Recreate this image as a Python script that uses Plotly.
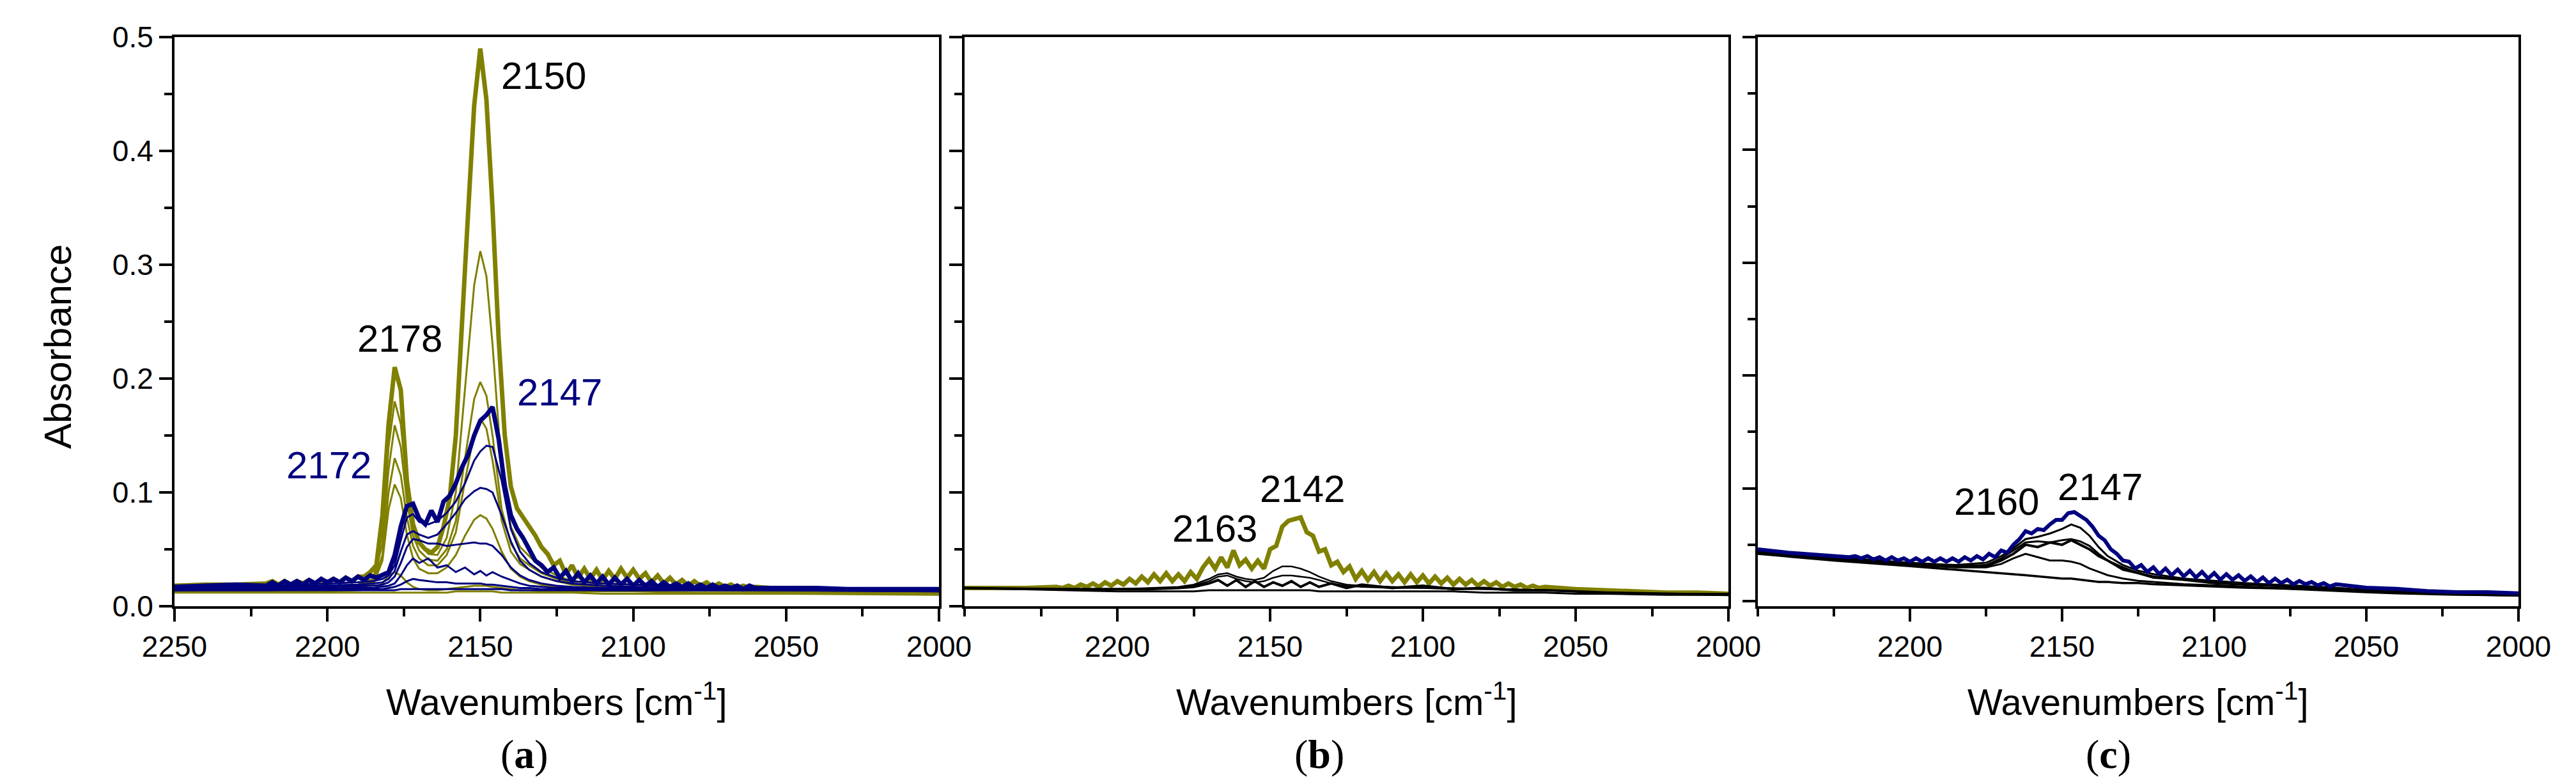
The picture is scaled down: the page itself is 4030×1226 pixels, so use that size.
import plotly.graph_objects as go

# ---------------- data ----------------
# fine wavenumber grid (cm-1) used for the thick (noisy) spectra
WN_FINE = [2250, 2240, 2230,
           2220, 2218, 2216, 2214, 2212, 2210, 2208, 2206, 2204, 2202,
           2200, 2198, 2196, 2194, 2192, 2190, 2188, 2186, 2184, 2182,
           2180, 2178, 2176, 2174, 2172, 2170, 2168, 2166, 2164, 2162,
           2160, 2158, 2156, 2154, 2152, 2150, 2148, 2146, 2144, 2142,
           2140, 2138, 2136, 2134, 2132, 2130, 2128, 2126, 2124, 2122,
           2120, 2118, 2116, 2114, 2112, 2110, 2108, 2106, 2104, 2102,
           2100, 2098, 2096, 2094, 2092, 2090, 2088, 2086, 2084, 2082,
           2080, 2078, 2076, 2074, 2072, 2070, 2068, 2066, 2064, 2062,
           2060,
           2050, 2040, 2030, 2020, 2010, 2000]

# panel (a) thick olive spectrum
A_OLIVE_THICK = [.018, .019, .019,
                 .020, .022, .019, .022, .019, .022, .020, .023, .020, .023,
                 .021, .024, .021, .025, .022, .026, .026, .030, .036, .080,
                 .160, .210, .190, .110, .072, .056, .050, .047, .052, .070,
                 .095, .150, .240, .345, .440, .490, .445, .350, .235, .150,
                 .105, .086, .078, .070, .062, .052, .046, .036, .040, .028,
                 .036, .025, .033, .024, .032, .023, .031, .024, .033, .025,
                 .032, .024, .029, .021, .027, .020, .025, .019, .023, .018,
                 .022, .018, .021, .017, .020, .017, .019, .016, .018, .016,
                 .017,
                 .015, .014, .013, .012, .012, .012]

# panel (a) thick blue spectrum
A_BLUE_THICK = [.017, .018, .019,
                .018, .021, .018, .022, .019, .022, .019, .023, .020, .024,
                .021, .024, .021, .025, .022, .026, .023, .027, .025, .028,
                .030, .045, .070, .088, .090, .077, .072, .084, .074, .092,
                .097, .108, .122, .133, .150, .163, .168, .175, .147, .106,
                .080, .068, .060, .050, .040, .036, .030, .034, .025, .031,
                .022, .029, .021, .027, .020, .026, .019, .025, .019, .024,
                .018, .023, .018, .022, .017, .021, .017, .020, .017, .020,
                .016, .019, .016, .019, .016, .018, .016, .018, .015, .018,
                .016,
                .016, .016, .015, .015, .015, .015]

# panel (b) thick olive spectrum
B_OLIVE_THICK = [.016, .016, .016,
                 .017, .016, .018, .016, .019, .017, .020, .017, .021, .018,
                 .022, .019, .024, .020, .026, .021, .028, .022, .029, .022,
                 .028, .022, .030, .024, .034, .041, .033, .043, .034, .049,
                 .036, .041, .033, .040, .033, .050, .053, .070, .075, .077,
                 .078, .065, .062, .048, .050, .036, .039, .030, .035, .024,
                 .031, .023, .030, .022, .029, .022, .028, .021, .028, .021,
                 .027, .020, .026, .020, .025, .019, .024, .019, .023, .018,
                 .022, .018, .021, .017, .020, .017, .019, .016, .018, .016,
                 .017,
                 .015, .014, .013, .012, .012, .011]

# panel (c) thick blue spectrum
C_BLUE_THICK = [.046, .043, .041,
                .039, .040, .038, .040, .037, .039, .036, .039, .036, .038,
                .035, .038, .035, .038, .035, .038, .035, .038, .035, .039,
                .036, .040, .037, .042, .039, .045, .043, .050, .055, .062,
                .060, .064, .063, .068, .072, .072, .078, .079, .075, .072,
                .066, .058, .054, .046, .042, .036, .035, .029, .032, .026,
                .030, .024, .029, .023, .028, .022, .027, .021, .026, .020,
                .025, .019, .024, .019, .023, .018, .022, .017, .021, .016,
                .020, .016, .019, .015, .018, .015, .017, .014, .016, .013,
                .015,
                .012, .011, .009, .008, .008, .007]

# panel (a) thin spectra
WN_A = [2250, 2220, 2200, 2190, 2185, 2182, 2180, 2178, 2176, 2174,
        2172, 2170, 2167, 2164, 2161, 2158, 2155, 2152, 2150, 2148,
        2146, 2143, 2140, 2137, 2134, 2130, 2125, 2120, 2110, 2100,
        2080, 2050, 2000]
A_OLIVE_2 = [.016, .017, .018, .019, .024, .065, .140, .180, .160, .105,
             .070, .055, .046, .045, .060, .100, .190, .282, .312, .290,
             .230, .120, .070, .052, .044, .034, .027, .022, .020, .019,
             .017, .015, .013]
A_OLIVE_3 = [.015, .016, .017, .018, .022, .055, .120, .159, .140, .092,
             .062, .049, .041, .040, .050, .075, .130, .182, .197, .185,
             .150, .085, .055, .042, .036, .029, .024, .020, .018, .017,
             .016, .014, .012]
A_OLIVE_4 = [.015, .015, .016, .017, .021, .045, .100, .130, .115, .078,
             .053, .042, .036, .036, .045, .065, .110, .152, .165, .156,
             .128, .075, .048, .037, .032, .026, .022, .019, .017, .016,
             .015, .013, .012]
A_OLIVE_5 = [.014, .014, .015, .016, .019, .040, .085, .107, .095, .063,
             .042, .033, .029, .029, .034, .045, .062, .076, .080, .077,
             .068, .048, .033, .026, .022, .019, .017, .016, .015, .015,
             .014, .013, .012]
A_OLIVE_6 = [.013, .013, .013, .014, .015, .020, .027, .030, .027, .021,
             .017, .015, .014, .014, .015, .016, .017, .018, .018, .018,
             .017, .016, .015, .014, .014, .013, .013, .013, .013, .013,
             .012, .012, .011]
A_OLIVE_7 = [.012, .012, .012, .012, .012, .012, .012, .012, .012, .012,
             .012, .012, .012, .012, .012, .013, .013, .013, .013, .013,
             .013, .012, .012, .012, .012, .012, .012, .012, .011, .011,
             .011, .011, .010]
A_BLUE_2 = [.016, .018, .020, .021, .022, .024, .027, .036, .058, .078,
            .081, .074, .072, .075, .082, .092, .108, .128, .136, .141,
            .140, .110, .068, .048, .038, .030, .025, .022, .020, .019,
            .017, .016, .015]
A_BLUE_3 = [.015, .017, .018, .019, .020, .021, .024, .031, .048, .063,
            .066, .063, .060, .063, .072, .082, .094, .101, .104, .103,
            .100, .080, .057, .040, .032, .026, .022, .020, .018, .017,
            .016, .015, .014]
A_BLUE_4 = [.014, .016, .017, .018, .018, .019, .021, .026, .038, .052,
            .059, .058, .055, .055, .053, .054, .055, .056, .055, .055,
            .053, .045, .034, .027, .023, .020, .018, .017, .016, .016,
            .015, .015, .014]
A_BLUE_5 = [.014, .015, .016, .016, .016, .017, .018, .020, .027, .036,
            .042, .038, .042, .034, .036, .030, .034, .028, .031, .027,
            .030, .026, .023, .020, .018, .017, .016, .016, .015, .015,
            .015, .014, .014]
A_BLUE_6 = [.014, .014, .015, .015, .015, .015, .016, .017, .019, .022,
            .024, .023, .022, .021, .021, .020, .020, .020, .020, .019,
            .019, .018, .017, .016, .016, .015, .015, .015, .014, .014,
            .014, .014, .013]
A_BLUE_7 = [.014, .014, .014, .014, .014, .014, .014, .014, .015, .015,
            .015, .015, .015, .015, .015, .015, .015, .015, .015, .015,
            .015, .015, .014, .014, .014, .014, .014, .014, .014, .014,
            .014, .014, .013]

# panel (b) thin black spectra
WN_B = [2250, 2220, 2200, 2190, 2180, 2175, 2170, 2167, 2164, 2161,
        2158, 2155, 2152, 2149, 2146, 2143, 2140, 2137, 2134, 2130,
        2125, 2120, 2110, 2100, 2090, 2080, 2070, 2060, 2050, 2040,
        2020, 2000]
B_BLACK_1 = [.016, .015, .015, .016, .017, .019, .024, .028, .029, .026,
             .024, .023, .025, .031, .035, .035, .033, .030, .026, .022,
             .019, .018, .017, .016, .016, .015, .015, .014, .013, .012,
             .011, .011]
B_BLACK_2 = [.016, .015, .015, .015, .016, .018, .022, .026, .027, .024,
             .022, .021, .022, .025, .027, .027, .026, .025, .023, .020,
             .018, .017, .016, .016, .015, .015, .014, .014, .013, .012,
             .011, .011]
B_BLACK_3 = [.016, .015, .015, .015, .016, .017, .020, .023, .018, .023,
             .017, .022, .017, .021, .018, .022, .017, .021, .017, .020,
             .016, .019, .016, .018, .015, .016, .014, .014, .013, .012,
             .011, .010]
B_BLACK_4 = [.016, .014, .013, .013, .013, .013, .014, .014, .014, .014,
             .014, .014, .014, .014, .014, .014, .014, .014, .013, .013,
             .013, .013, .013, .013, .013, .012, .012, .012, .011, .011,
             .010, .010]

# panel (c) thin black spectra
WN_C = [2250, 2225, 2200, 2185, 2175, 2170, 2166, 2162, 2158, 2154,
        2150, 2147, 2144, 2141, 2138, 2135, 2130, 2125, 2120, 2110,
        2100, 2090, 2075, 2060, 2050, 2040, 2025, 2000]
C_BLACK_1 = [.044, .039, .034, .032, .034, .040, .047, .055, .057, .060,
             .064, .068, .065, .058, .048, .040, .032, .027, .024, .020,
             .018, .016, .014, .012, .010, .009, .007, .006]
C_BLACK_2 = [.044, .038, .033, .031, .032, .038, .045, .052, .053, .052,
             .054, .055, .053, .049, .042, .036, .030, .025, .022, .019,
             .017, .015, .013, .011, .010, .008, .007, .006]
C_BLACK_3 = [.044, .038, .033, .031, .031, .036, .042, .050, .048, .052,
             .050, .054, .050, .046, .040, .036, .028, .025, .021, .019,
             .016, .015, .013, .011, .009, .008, .007, .006]
C_BLACK_4 = [.043, .037, .032, .030, .030, .033, .038, .042, .039, .036,
             .036, .035, .033, .029, .026, .023, .020, .018, .017, .015,
             .014, .013, .011, .010, .009, .008, .006, .005]
C_BLACK_5 = [.042, .036, .031, .028, .026, .025, .024, .023, .022, .021,
             .020, .020, .019, .018, .017, .017, .016, .016, .015, .014,
             .013, .012, .011, .009, .008, .007, .006, .005]

X_TICKS_A = [2250, 2200, 2150, 2100, 2050, 2000]
X_TICKS_BC = [2200, 2150, 2100, 2050, 2000]
Y_TICKS = [0.0, 0.1, 0.2, 0.3, 0.4, 0.5]

# peak labels: (text, wavenumber, absorbance, colour-key)
LABELS_A = [("2150", 2129.2, 0.466, "k"), ("2178", 2176.4, 0.235, "k"),
            ("2147", 2124.0, 0.188, "b"), ("2172", 2199.6, 0.124, "b")]
LABELS_B = [("2142", 2139.4, 0.103, "k"), ("2163", 2168.0, 0.0685, "k")]
LABELS_C = [("2147", 2137.6, 0.1015, "k"), ("2160", 2171.6, 0.088, "k")]
PANEL_LETTERS = ["a", "b", "c"]

# ---------------- style ----------------
OLIVE = "#808000"
NAVY = "#00007f"
BLACK = "#000000"
SANS = "Liberation Sans, Arial, sans-serif"
SERIF = "Liberation Serif, Times New Roman, serif"
W, H = 4030, 1226
THICK, THIN = 7, 3

fig = go.Figure()


def add(x, y, color, width, ax):
    assert len(x) == len(y), (len(x), len(y))
    fig.add_trace(go.Scatter(x=x, y=y, mode="lines",
                             line=dict(color=color, width=width),
                             xaxis="x" + ax, yaxis="y" + ax,
                             showlegend=False, hoverinfo="skip"))


# panel a
for s in [A_OLIVE_7, A_OLIVE_6, A_OLIVE_5, A_OLIVE_4, A_OLIVE_3, A_OLIVE_2]:
    add(WN_A, s, OLIVE, THIN, "")
add(WN_FINE, A_OLIVE_THICK, OLIVE, THICK, "")
for s in [A_BLUE_7, A_BLUE_6, A_BLUE_5, A_BLUE_4, A_BLUE_3, A_BLUE_2]:
    add(WN_A, s, NAVY, THIN, "")
add(WN_FINE, A_BLUE_THICK, NAVY, THICK, "")

# panel b
add(WN_FINE, B_OLIVE_THICK, OLIVE, THICK, "2")
for s, w in [(B_BLACK_4, 3), (B_BLACK_3, 4), (B_BLACK_2, 2.5), (B_BLACK_1, 2.5)]:
    add(WN_B, s, BLACK, w, "2")

# panel c
for s, w in [(C_BLACK_5, 3.5), (C_BLACK_4, 3), (C_BLACK_3, 4), (C_BLACK_2, 3), (C_BLACK_1, 3)]:
    add(WN_C, s, BLACK, w, "3")
add(WN_FINE, C_BLUE_THICK, NAVY, 6, "3")

# ---------------- axes ----------------
x_dom = [[265 / W, 1461 / W], [1501 / W, 2696 / W], [2742 / W, 3932 / W]]
y_dom = [1 - 940 / H, 1 - 50 / H]
letter_x = [812 / W, 2056 / W, 3290 / W]

common = dict(showline=True, linewidth=4, linecolor="black", mirror=True,
              ticks="outside", ticklen=20, tickwidth=4, tickcolor="black",
              showgrid=False, zeroline=False, automargin=False,
              tickfont=dict(family=SANS, size=46, color="black"))

for i, key in enumerate(["", "2", "3"]):
    fig.layout["xaxis" + key] = dict(
        common, domain=x_dom[i], anchor="y" + key, range=[2250, 2000],
        tickmode="array", tickvals=X_TICKS_A if i == 0 else X_TICKS_BC,
        ticktext=[str(v) for v in (X_TICKS_A if i == 0 else X_TICKS_BC)],
        minor=dict(ticks="outside", ticklen=12, tickwidth=4, tickcolor="black",
                   dtick=25, tick0=2000, showgrid=False))
    fig.layout["yaxis" + key] = dict(
        common, domain=y_dom, anchor="x" + key,
        range=[0, 0.5] if i < 2 else [-0.0045, 0.5],
        tickmode="array", tickvals=Y_TICKS,
        ticktext=["%.1f" % v for v in Y_TICKS],
        showticklabels=(i == 0),
        minor=dict(ticks="outside", ticklen=12, tickwidth=4, tickcolor="black",
                   dtick=0.05, tick0=0, showgrid=False))

# ---------------- annotations ----------------
ann = []
for key, labels in [("", LABELS_A), ("2", LABELS_B), ("3", LABELS_C)]:
    for text, wx, vy, ck in labels:
        ann.append(dict(text=text, x=wx, y=vy, xref="x" + key, yref="y" + key,
                        showarrow=False, xanchor="center", yanchor="middle",
                        font=dict(family=SANS, size=60,
                                  color=NAVY if ck == "b" else "black")))

for i, letter in enumerate(PANEL_LETTERS):
    cx = (x_dom[i][0] + x_dom[i][1]) / 2
    ann.append(dict(text="Wavenumbers [cm<sup>-1</sup>]", x=cx, y=1 - 1085 / H,
                    xref="paper", yref="paper", showarrow=False,
                    xanchor="center", yanchor="middle",
                    font=dict(family=SANS, size=58, color="black")))
    ann.append(dict(text="(<b>%s</b>)" % letter, x=letter_x[i], y=1 - 1171 / H,
                    xref="paper", yref="paper", showarrow=False,
                    xanchor="center", yanchor="middle",
                    font=dict(family=SERIF, size=64, color="black")))

ann.append(dict(text="Absorbance", x=82 / W, y=1 - 534 / H, xref="paper",
                yref="paper", showarrow=False, textangle=-90,
                xanchor="center", yanchor="middle",
                font=dict(family=SANS, size=60, color="black")))

fig.update_layout(template="none", width=W, height=H,
                  margin=dict(l=0, r=0, t=0, b=0, autoexpand=False),
                  paper_bgcolor="white", plot_bgcolor="white",
                  annotations=ann, showlegend=False)

fig.write_html("out.html", config={"displayModeBar": False})
